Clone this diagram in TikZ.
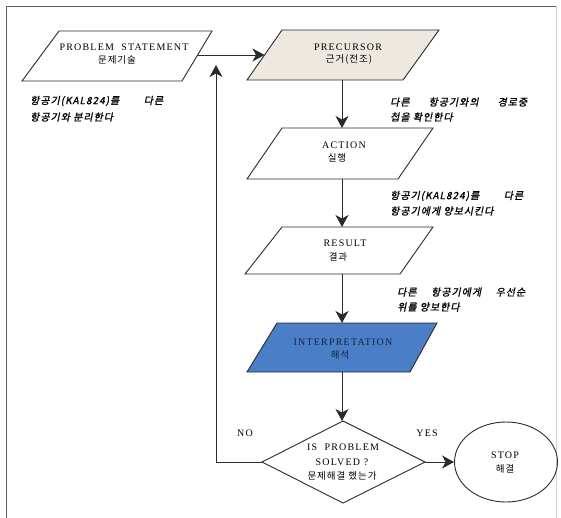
\documentclass[tikz,border=0pt]{standalone}
\usepackage{fontspec}
\setmainfont{Liberation Serif}
\newfontfamily\hangul[LetterSpace=10]{Noto Sans CJK KR}
\newfontfamily\hangulsl[FakeSlant=0.2,FakeBold=1.2,LetterSpace=10]{Noto Sans CJK KR}
\newfontfamily\capsfont[LetterSpace=12]{Liberation Serif}
\usetikzlibrary{arrows.meta,shapes.geometric}

\definecolor{linec}{HTML}{2B2B2B}
\definecolor{precfill}{HTML}{EDE9E0}
\definecolor{interpfill}{HTML}{4A7EC6}
\definecolor{navytext}{HTML}{15223F}

\begin{document}
\begin{tikzpicture}[x=1pt,y=-1pt,
  shapeline/.style={draw=linec, line width=0.9pt, line join=miter},
  flow/.style={draw=linec, line width=0.9pt, -{Stealth[length=12pt,width=13pt,inset=3.5pt]}},
  title/.style={font=\capsfont\fontsize{10}{12}\selectfont, inner sep=0pt},
  hang/.style={font=\hangul\fontsize{9.5}{11}\selectfont, inner sep=0pt},
  note/.style={font=\hangulsl\fontsize{10}{12}\selectfont, inner sep=0pt, anchor=west},
]
\useasboundingbox (0,0) rectangle (561,518);

% outer frame
\draw[gray!75!black, line width=1.3pt] (6.5,520) -- (6.5,6.5) -- (556.5,6.5);
\draw[gray!35, line width=1pt] (556.5,6.5) -- (556.5,520);

% problem statement
\draw[shapeline, fill=white] (59,31) -- (212,31) -- (182,81) -- (22,81) -- cycle;
\coordinate (ps-r) at (197.6,55);
\node[title] (ps) at (124,47) {PROBLEM\ \ STATEMENT};
\node[hang] (ps-k) at (117,60) {문제기술};

% precursor
\draw[shapeline, fill=precfill] (282,30) -- (439,30) -- (403,80) -- (247,80) -- cycle;
\coordinate (pre-l) at (264.5,55);
\coordinate (pre-b) at (342,80);
\node[title] (pre) at (348,47) {PRECURSOR};
\node[hang] (pre-k) at (349,60) {근거(전조)};

% action
\draw[shapeline, fill=white] (282,128) -- (433,128) -- (398,179) -- (247,179) -- cycle;
\coordinate (act-t) at (342,128);
\coordinate (act-b) at (342,179);
\node[title] (act) at (344,145) {ACTION};
\node[hang] (act-k) at (337,158) {실행};

% result
\draw[shapeline, fill=white] (282,227) -- (433,227) -- (400,274) -- (245,274) -- cycle;
\coordinate (res-t) at (342,227);
\coordinate (res-b) at (342,274);
\node[title] (res) at (345,243) {RESULT};
\node[hang] (res-k) at (338,257) {결과};

% interpretation
\draw[shapeline, fill=interpfill] (277,323) -- (437,323) -- (410,372) -- (247,372) -- cycle;
\coordinate (int-t) at (342,323);
\coordinate (int-b) at (342,372);
\node[title, text=navytext] (int) at (343,342) {INTERPRETATION};
\node[hang, text=navytext] (int-k) at (340,355) {해석};

% decision
\draw[shapeline, fill=white] (343,421) -- (425,462) -- (343,503) -- (262,462) -- cycle;
\coordinate (dia-t) at (342,421);
\coordinate (dia-r) at (425,462);
\coordinate (dia-l) at (262,462);
\node[title] (dia1) at (343,447) {IS\ \ PROBLEM};
\node[title] (dia2) at (342,462) {SOLVED ?};
\node[hang] (dia-k) at (342,476) {문제해결 했는가};

% stop
\node[shapeline, ellipse, minimum width=103pt, minimum height=80pt, inner sep=0pt] (stop) at (506,462) {};
\node[title] (stop-t) at (505,455) {STOP};
\node[hang] (stop-k) at (505,469) {해결};

% branch labels
\node[title] (no) at (245,433) {NO};
\node[title] (yes) at (427,433) {YES};

% notes beside the connectors
\node[note] (n1a) at (30,101) {\makebox[133pt][l]{항공기(KAL824)를\hfill 다른}};
\node[note] (n1b) at (30,117) {항공기와 분리한다};
\node[note] (n2a) at (390,102) {\makebox[137pt][l]{다른\hfill 항공기와의\hfill 경로중}};
\node[note] (n2b) at (390,117) {첩을 확인한다};
\node[note] (n3a) at (390,196) {\makebox[133pt][l]{항공기(KAL824)를\hfill 다른}};
\node[note] (n3b) at (390,211) {항공기에게 양보시킨다};
\node[note] (n4a) at (397,292) {\makebox[128pt][l]{다른\hfill 항공기에게\hfill 우선순}};
\node[note] (n4b) at (397,307) {위를 양보한다};

% connectors
\coordinate (back-corner) at (216,462);
\coordinate (back-top) at (216,65);
\draw[flow] (ps-r) -- (pre-l);
\draw[flow] (pre-b) -- (act-t);
\draw[flow] (act-b) -- (res-t);
\draw[flow] (res-b) -- (int-t);
\draw[flow] (int-b) -- (dia-t);
\draw[flow] (dia-r) -- (stop.west);
\draw[flow] (dia-l) -- (back-corner) -- (back-top);
\end{tikzpicture}
\end{document}
